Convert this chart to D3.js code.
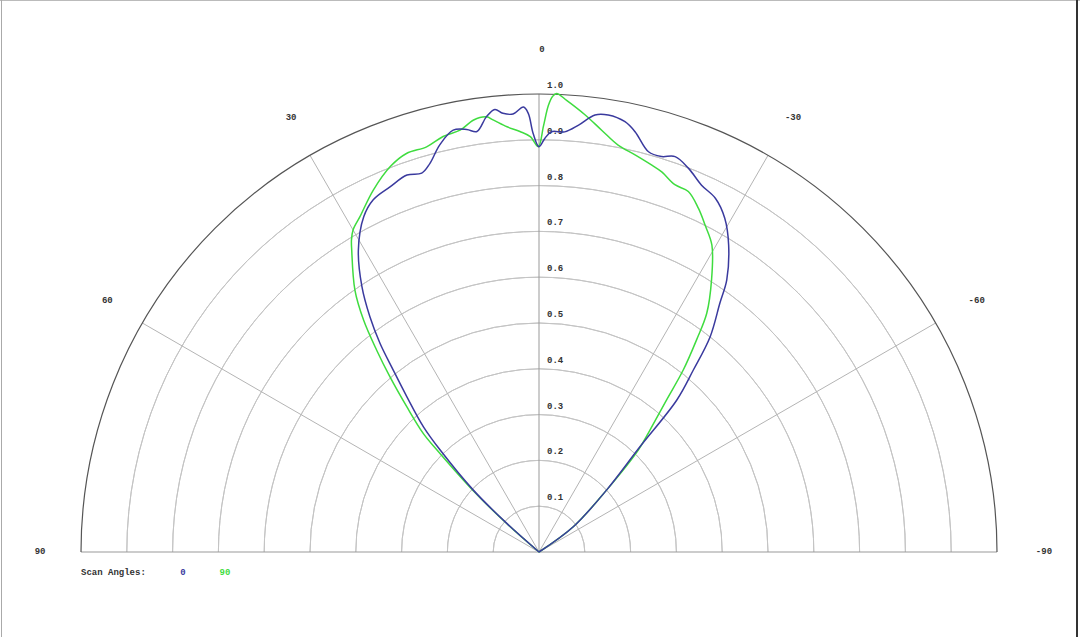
<!DOCTYPE html>
<html>
<head>
<meta charset="utf-8">
<script src="https://cdn.jsdelivr.net/npm/d3@7"></script>
<style>
  body { margin: 0; background: #fff; }
  svg { display: block; }
  text { font-family: "Liberation Mono", "DejaVu Sans Mono", monospace; font-size: 9px; font-weight: bold; fill: #333; }
</style>
</head>
<body>
<script>
// angles in degrees, positive = left of boresight
const blueAngles = [-90, -60, -53.6, -47.5, -43.8, -42.2, -40.3, -38.5, -36.0, -34.6, -31.7, -29.1, -26.5,
  -23.9, -21.3, -19.0, -17.2, -15.3, -12.9, -11.3, -9.0, -7.3, -5.3, -3.5, -1.7, -0.8, 0, 0.8, 1.4, 2.0, 3.4,
  4.7, 5.7, 6.9, 8.4, 9.7, 11.5, 13.7, 15.7, 17.2, 19.3, 22.2, 25.2, 27.6, 30.9, 33.7, 35.7, 37.3, 38.7, 40.4,
  42.7, 44.1, 46.7, 48.4, 60, 90];
const blueValues = [0, 0, 0.093, 0.200, 0.319, 0.448, 0.521, 0.600, 0.672, 0.722, 0.788, 0.834, 0.863,
  0.876, 0.899, 0.913, 0.904, 0.906, 0.941, 0.958, 0.966, 0.962, 0.936, 0.919, 0.918, 0.903, 0.885, 0.914, 0.958,
  0.972, 0.958, 0.961, 0.971, 0.957, 0.928, 0.936, 0.940, 0.915, 0.881, 0.866, 0.872, 0.861, 0.850, 0.826, 0.768,
  0.697, 0.633, 0.573, 0.509, 0.445, 0.372, 0.310, 0.197, 0.094, 0, 0];

const greenAngles = [-90, -60, -53.6, -47.5, -44.2, -42.3, -40.0, -38.4, -36.6, -35.1, -32.4, -29.4, -26.9, -24.9,
  -22.5, -20.3, -17.9, -16.2, -13.6, -11.0, -8.45, -6.0, -3.5, -2.2, -1.7, -1.2, -0.6, 0.1, 1.2, 2.6, 4.3, 6.0,
  6.9, 8.6, 10.6, 13.0, 15.5, 18.4, 21.1, 24.6, 28.1, 30.0, 31.0, 31.8, 35.1, 37.1, 38.8, 40.4, 42.3, 44.3, 45.0,
  47.0, 48.6, 60, 90];
const greenValues = [0, 0, 0.093, 0.200, 0.312, 0.360, 0.433, 0.507, 0.577, 0.637, 0.703, 0.769, 0.801, 0.827,
  0.852, 0.855, 0.872, 0.880, 0.892, 0.905, 0.931, 0.960, 0.988, 1.002, 0.995, 0.975, 0.930, 0.885, 0.907, 0.919,
  0.931, 0.948, 0.957, 0.954, 0.937, 0.931, 0.918, 0.917, 0.902, 0.869, 0.830, 0.812, 0.795, 0.776, 0.699, 0.635,
  0.566, 0.502, 0.429, 0.362, 0.315, 0.197, 0.094, 0, 0];

const ringValues = [0.1, 0.2, 0.3, 0.4, 0.5, 0.6, 0.7, 0.8, 0.9, 1.0];
const ringLabels = ["0.1", "0.2", "0.3", "0.4", "0.5", "0.6", "0.7", "0.8", "0.9", "1.0"];
const spokeAngles = [-60, -30, 0, 30, 60];
const angleLabels = [90, 60, 30, 0, -30, -60, -90];
const seriesNames = ["0", "90"];
const seriesColors = ["#3a3a9e", "#3fdc3f"];

const width = 1080, height = 637;
const cx = 539, cy = 552, R = 458;

const svg = d3.select("body").append("svg")
  .attr("width", width)
  .attr("height", height);

// frame
svg.append("line").attr("x1", 0).attr("x2", width).attr("y1", 0.5).attr("y2", 0.5)
  .attr("stroke", "#bbb");
svg.append("line").attr("x1", 1.5).attr("x2", 1.5).attr("y1", 0).attr("y2", height)
  .attr("stroke", "#aaa");
svg.append("line").attr("x1", 1077).attr("x2", 1077).attr("y1", 0).attr("y2", height)
  .attr("stroke", "#333").attr("stroke-width", 2);

const g = svg.append("g").attr("transform", `translate(${cx},${cy})`);

const rscale = d3.scaleLinear().domain([0, 1]).range([0, R]);
// positive degrees go left (counter-clockwise)
const toRad = (deg) => -deg * Math.PI / 180;

const arc = d3.arc()
  .startAngle(-Math.PI / 2)
  .endAngle(Math.PI / 2);

// rings
g.selectAll("path.ring")
  .data(ringValues.slice(0, -1))
  .join("path")
  .attr("class", "ring")
  .attr("d", (d) => arc({ innerRadius: rscale(d), outerRadius: rscale(d) }))
  .attr("fill", "none")
  .attr("stroke", "#c4c4c4")
  .attr("stroke-width", 1);

// spokes
g.selectAll("line.spoke")
  .data(spokeAngles)
  .join("line")
  .attr("class", "spoke")
  .attr("x1", 0).attr("y1", 0)
  .attr("x2", (d) => rscale(1) * Math.sin(toRad(d)))
  .attr("y2", (d) => -rscale(1) * Math.cos(toRad(d)))
  .attr("stroke", (d) => (d === 0 ? "#999" : "#b4b4b4"))
  .attr("stroke-width", 1);

// baseline
g.append("line")
  .attr("x1", -rscale(1)).attr("x2", rscale(1))
  .attr("y1", 0).attr("y2", 0)
  .attr("stroke", "#999");

// outer arc
g.append("path")
  .attr("d", arc({ innerRadius: rscale(1), outerRadius: rscale(1) }))
  .attr("fill", "none")
  .attr("stroke", "#555")
  .attr("stroke-width", 1.2);

// ring labels
g.selectAll("text.rlab")
  .data(ringValues)
  .join("text")
  .attr("class", "rlab")
  .attr("x", 8)
  .attr("y", (d) => -rscale(d) - 6)
  .text((d, i) => ringLabels[i]);

// angle labels
const labelR = rscale(1.096);
g.selectAll("text.alab")
  .data(angleLabels)
  .join("text")
  .attr("class", "alab")
  .attr("text-anchor", "middle")
  .attr("dominant-baseline", "middle")
  .attr("x", (d) => labelR * Math.sin(toRad(d)) + 3)
  .attr("y", (d) => -labelR * Math.cos(toRad(d)))
  .text((d) => d);

// curves
const line = d3.lineRadial()
  .angle((d) => toRad(d[0]))
  .radius((d) => rscale(d[1]))
  .curve(d3.curveCatmullRom.alpha(0.5));

const series = [
  d3.zip(blueAngles, blueValues),
  d3.zip(greenAngles, greenValues),
];

// draw green first so blue sits on top near the center
[1, 0].forEach((i) => {
  g.append("path")
    .datum(series[i])
    .attr("d", line)
    .attr("fill", "none")
    .attr("stroke", seriesColors[i])
    .attr("stroke-width", 1.5)
    .attr("stroke-linejoin", "round");
});

// legend
const legend = svg.append("g").attr("transform", "translate(81,573)");
legend.append("text").attr("dominant-baseline", "middle").text("Scan Angles:");
legend.selectAll("text.leg")
  .data(seriesNames)
  .join("text")
  .attr("class", "leg")
  .attr("text-anchor", "middle")
  .attr("dominant-baseline", "middle")
  .attr("x", (d, i) => 102 + i * 42)
  .style("fill", (d, i) => seriesColors[i])
  .text((d) => d);
</script>
</body>
</html>
